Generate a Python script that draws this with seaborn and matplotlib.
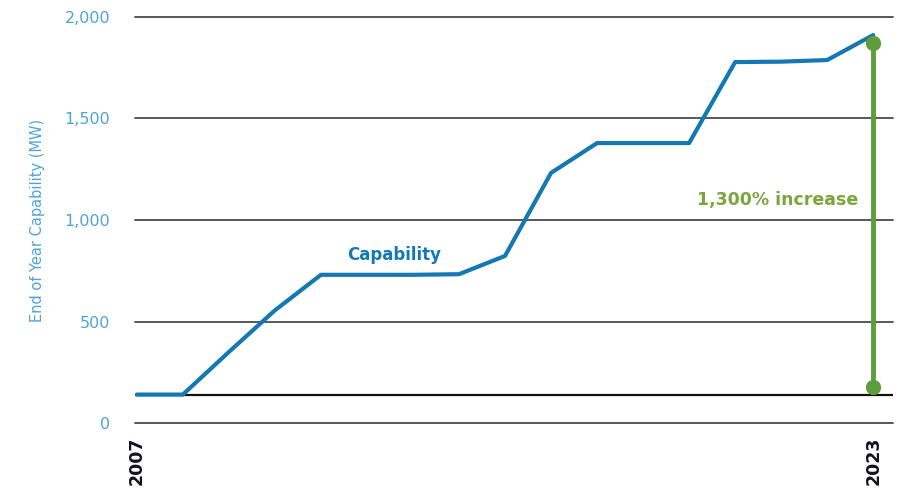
import matplotlib
matplotlib.use("Agg")
import matplotlib.pyplot as plt
import seaborn as sns
import pandas as pd

years = [2007, 2008, 2009, 2010, 2011, 2012, 2013, 2014, 2015, 2016, 2017, 2018, 2019, 2020, 2021, 2022, 2023]
capability = [140, 140, 350, 555, 730, 730, 730, 733, 823, 1232, 1379, 1379, 1379, 1778, 1780, 1788, 1911]
increase_range = [177, 1872]
y_ticks = [0, 500, 1000, 1500, 2000]
y_tick_labels = ["0", "500", "1,000", "1,500", "2,000"]
x_tick_years = [2007, 2023]

sns.set_style("white")
plt.rcParams['font.family'] = ['DejaVu Sans']

df = pd.DataFrame({"Year": years, "Capability": capability})

fig = plt.figure(figsize=(9.02, 4.9), dpi=100)
ax = fig.add_axes([135/902, 1 - 423/490, (893 - 135)/902, (423 - 17)/490])

blue = "#1479b3"
light_blue = "#4ea3d8"
green = "#5e9c3c"

for yt in y_ticks:
    ax.axhline(yt, color="#4a4a4a", lw=1.3, zorder=1, clip_on=False)
ax.axhline(capability[0], color="#111111", lw=1.6, zorder=1)

sns.lineplot(data=df, x="Year", y="Capability", ax=ax, color=blue, lw=3.0, zorder=3)

ax.plot([years[-1], years[-1]], increase_range, color=green, lw=3.5,
         marker="o", markersize=10, zorder=4, clip_on=False)

ax.text(2022.67, 1098, "1,300% increase", color="#7aa63c", fontsize=12.5,
        fontweight="bold", ha="right", va="center")
ax.text(2012.6, 828, "Capability", color=blue, fontsize=12,
        fontweight="bold", ha="center", va="center")

ax.set_xlim(2006.96, 2023.43)
ax.set_ylim(0, 2000)
ax.set_yticks(y_ticks)
ax.set_yticklabels(y_tick_labels, color=light_blue, fontsize=11.5)
ax.set_xticks(x_tick_years)
ax.set_xticklabels([str(y) for y in x_tick_years], rotation=90, fontsize=12.5,
                   fontweight="bold", color="#111122")
ax.tick_params(axis="y", length=0, pad=18)
ax.tick_params(axis="x", length=0, pad=10)
ax.set_xlabel("")
ax.set_ylabel("End of Year Capability (MW)", color=light_blue, fontsize=10.5, labelpad=14)
for s in ax.spines.values():
    s.set_visible(False)

fig.savefig("out.png", dpi=100)
